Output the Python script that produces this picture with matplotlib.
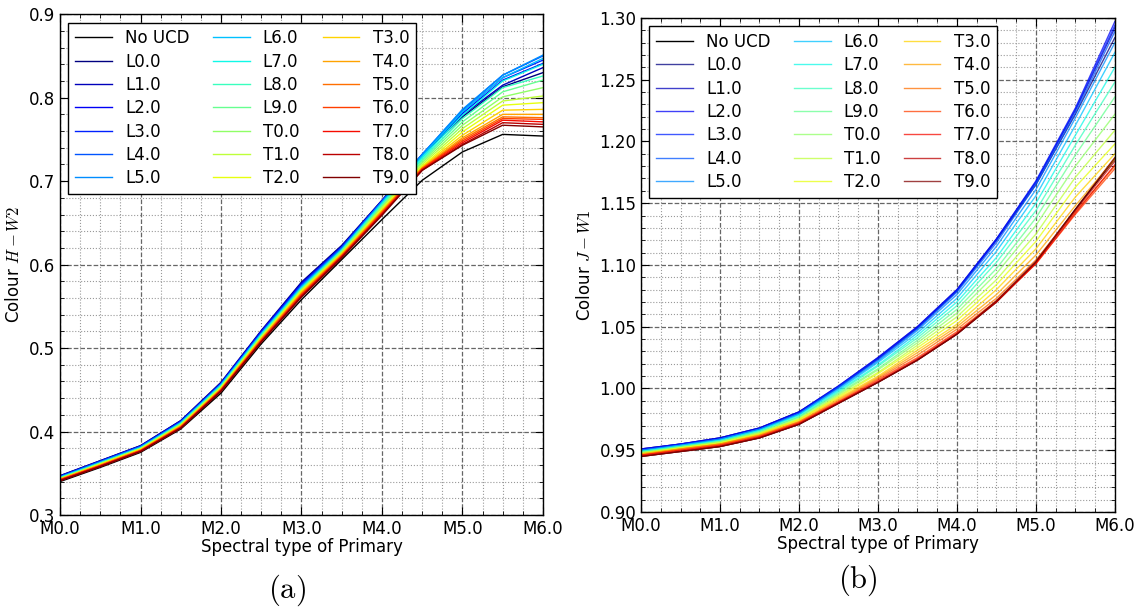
import numpy as np
import matplotlib
matplotlib.use("Agg")
import matplotlib.pyplot as plt
from matplotlib.ticker import MultipleLocator

plt.rcParams["mathtext.fontset"] = "cm"
plt.rcParams["font.family"] = "DejaVu Sans"

# spectral type of the primary, M0.0 .. M6.0 in half steps
primary = [0.0, 0.5, 1.0, 1.5, 2.0, 2.5, 3.0, 3.5, 4.0, 4.5, 5.0, 5.5, 6.0]
primary_ticks = [0, 1, 2, 3, 4, 5, 6]
primary_labels = ["M0.0", "M1.0", "M2.0", "M3.0", "M4.0", "M5.0", "M6.0"]

ucd_types = ["L0.0", "L1.0", "L2.0", "L3.0", "L4.0", "L5.0", "L6.0", "L7.0", "L8.0", "L9.0",
             "T0.0", "T1.0", "T2.0", "T3.0", "T4.0", "T5.0", "T6.0", "T7.0", "T8.0", "T9.0"]

# (a) H-W2, no companion
hw2_none = [0.340, 0.357, 0.375, 0.403, 0.446, 0.505, 0.558, 0.606, 0.654, 0.701, 0.735, 0.756, 0.754]
# (a) H-W2 with companion; one row per primary type, one value per UCD type (L0 .. T9)
hw2_by_primary = [
    [0.347, 0.347, 0.346, 0.346, 0.346, 0.345, 0.345, 0.345, 0.344, 0.344, 0.344, 0.343, 0.343, 0.343, 0.343, 0.342, 0.342, 0.342, 0.341, 0.341],
    [0.365, 0.365, 0.364, 0.364, 0.364, 0.363, 0.363, 0.362, 0.362, 0.362, 0.361, 0.361, 0.361, 0.360, 0.360, 0.359, 0.359, 0.359, 0.358, 0.358],
    [0.383, 0.383, 0.382, 0.382, 0.382, 0.381, 0.381, 0.380, 0.380, 0.380, 0.379, 0.379, 0.379, 0.378, 0.378, 0.377, 0.377, 0.377, 0.376, 0.376],
    [0.413, 0.413, 0.412, 0.412, 0.411, 0.411, 0.410, 0.410, 0.409, 0.409, 0.408, 0.408, 0.407, 0.407, 0.406, 0.406, 0.405, 0.405, 0.404, 0.404],
    [0.459, 0.458, 0.458, 0.457, 0.457, 0.456, 0.456, 0.455, 0.454, 0.454, 0.453, 0.453, 0.452, 0.451, 0.451, 0.450, 0.450, 0.449, 0.449, 0.448],
    [0.521, 0.520, 0.520, 0.519, 0.518, 0.517, 0.517, 0.516, 0.515, 0.514, 0.514, 0.513, 0.512, 0.511, 0.511, 0.510, 0.509, 0.508, 0.508, 0.507],
    [0.579, 0.578, 0.577, 0.576, 0.575, 0.574, 0.573, 0.572, 0.571, 0.570, 0.570, 0.569, 0.568, 0.567, 0.566, 0.565, 0.564, 0.563, 0.562, 0.561],
    [0.623, 0.622, 0.621, 0.621, 0.620, 0.619, 0.618, 0.617, 0.617, 0.616, 0.615, 0.614, 0.613, 0.613, 0.612, 0.611, 0.610, 0.610, 0.609, 0.608],
    [0.677, 0.677, 0.676, 0.676, 0.676, 0.675, 0.674, 0.673, 0.672, 0.670, 0.669, 0.668, 0.666, 0.665, 0.664, 0.663, 0.662, 0.661, 0.660, 0.659],
    [0.731, 0.731, 0.732, 0.732, 0.732, 0.732, 0.730, 0.728, 0.726, 0.724, 0.722, 0.720, 0.718, 0.717, 0.716, 0.715, 0.715, 0.714, 0.713, 0.713],
    [0.777, 0.779, 0.781, 0.783, 0.785, 0.786, 0.783, 0.779, 0.775, 0.771, 0.767, 0.763, 0.759, 0.755, 0.752, 0.750, 0.748, 0.746, 0.744, 0.743],
    [0.813, 0.815, 0.821, 0.824, 0.827, 0.827, 0.824, 0.820, 0.812, 0.807, 0.801, 0.796, 0.791, 0.785, 0.780, 0.777, 0.775, 0.773, 0.770, 0.767],
    [0.830, 0.836, 0.841, 0.845, 0.850, 0.851, 0.847, 0.840, 0.826, 0.821, 0.812, 0.802, 0.794, 0.786, 0.780, 0.776, 0.774, 0.771, 0.768, 0.765],
]

# (b) J-W1, no companion
jw1_none = [0.945, 0.949, 0.953, 0.960, 0.971, 0.988, 1.005, 1.023, 1.044, 1.070, 1.102, 1.145, 1.186]
# (b) J-W1 with companion; one row per primary type, one value per UCD type (L0 .. T9)
jw1_by_primary = [
    [0.951, 0.951, 0.951, 0.950, 0.950, 0.950, 0.949, 0.949, 0.949, 0.948, 0.948, 0.948, 0.947, 0.947, 0.947, 0.946, 0.946, 0.946, 0.945, 0.945],
    [0.955, 0.955, 0.955, 0.955, 0.954, 0.954, 0.954, 0.953, 0.953, 0.953, 0.952, 0.952, 0.952, 0.951, 0.951, 0.951, 0.950, 0.950, 0.949, 0.949],
    [0.960, 0.960, 0.960, 0.959, 0.959, 0.959, 0.958, 0.958, 0.957, 0.957, 0.957, 0.956, 0.956, 0.955, 0.955, 0.955, 0.954, 0.954, 0.953, 0.953],
    [0.968, 0.968, 0.968, 0.967, 0.967, 0.967, 0.966, 0.966, 0.965, 0.965, 0.964, 0.964, 0.963, 0.963, 0.962, 0.962, 0.961, 0.961, 0.960, 0.960],
    [0.981, 0.981, 0.981, 0.980, 0.980, 0.979, 0.979, 0.978, 0.977, 0.977, 0.976, 0.975, 0.975, 0.974, 0.973, 0.973, 0.972, 0.972, 0.971, 0.971],
    [1.001, 1.002, 1.002, 1.001, 1.001, 1.000, 0.999, 0.998, 0.997, 0.996, 0.995, 0.994, 0.993, 0.992, 0.991, 0.990, 0.989, 0.989, 0.988, 0.988],
    [1.024, 1.025, 1.025, 1.024, 1.023, 1.022, 1.021, 1.019, 1.018, 1.016, 1.015, 1.013, 1.012, 1.010, 1.009, 1.008, 1.007, 1.006, 1.005, 1.005],
    [1.049, 1.050, 1.050, 1.049, 1.048, 1.047, 1.045, 1.043, 1.041, 1.039, 1.037, 1.035, 1.033, 1.031, 1.029, 1.027, 1.025, 1.024, 1.023, 1.023],
    [1.079, 1.080, 1.080, 1.079, 1.078, 1.076, 1.073, 1.070, 1.067, 1.064, 1.061, 1.058, 1.055, 1.052, 1.050, 1.048, 1.046, 1.045, 1.044, 1.044],
    [1.120, 1.121, 1.121, 1.120, 1.118, 1.115, 1.111, 1.106, 1.102, 1.097, 1.093, 1.088, 1.084, 1.080, 1.076, 1.073, 1.071, 1.070, 1.070, 1.071],
    [1.165, 1.167, 1.168, 1.167, 1.165, 1.161, 1.156, 1.150, 1.144, 1.138, 1.132, 1.125, 1.119, 1.113, 1.108, 1.104, 1.101, 1.101, 1.102, 1.103],
    [1.222, 1.225, 1.227, 1.226, 1.223, 1.219, 1.213, 1.205, 1.197, 1.189, 1.180, 1.171, 1.163, 1.155, 1.148, 1.143, 1.141, 1.142, 1.144, 1.145],
    [1.284, 1.292, 1.297, 1.294, 1.289, 1.280, 1.272, 1.260, 1.248, 1.236, 1.222, 1.209, 1.198, 1.190, 1.186, 1.180, 1.178, 1.181, 1.184, 1.187],
]

hw2 = np.array(hw2_by_primary).T
jw1 = np.array(jw1_by_primary).T
colors = plt.cm.jet(np.linspace(0, 1, len(ucd_types)))


def draw_panel(ax, none_vals, ucd_vals, ylabel, ylim, major, minor, fmt, alpha):
    ax.plot(primary, none_vals, color="k", lw=1.0, label="No UCD")
    for name, vals, c in zip(ucd_types, ucd_vals, colors):
        ax.plot(primary, vals, color=c, lw=1.0, alpha=alpha, label=name)
    ax.set_xlim(0, 6)
    ax.set_ylim(*ylim)
    ax.set_xticks(primary_ticks)
    ax.set_xticklabels(primary_labels)
    ax.xaxis.set_minor_locator(MultipleLocator(0.25))
    ax.yaxis.set_major_locator(MultipleLocator(major))
    ax.yaxis.set_minor_locator(MultipleLocator(minor))
    ax.yaxis.set_major_formatter(fmt)
    ax.grid(True, which="major", ls="--", color="0.4", lw=0.9)
    ax.grid(True, which="minor", ls=":", color="0.6", lw=0.8)
    ax.set_axisbelow(True)
    ax.tick_params(which="both", direction="in", top=True, right=True, labelsize=12)
    ax.tick_params(which="major", length=6)
    ax.tick_params(which="minor", length=3)
    ax.set_xlabel("Spectral type of Primary", fontsize=12, labelpad=0)
    ax.set_ylabel(ylabel, fontsize=12, labelpad=4)
    for sp in ax.spines.values():
        sp.set_linewidth(1.0)
    leg = ax.legend(loc="upper left", ncol=3, fontsize=12, handlelength=2.2,
                    labelspacing=0.32, columnspacing=1.4, borderpad=0.4,
                    fancybox=False, framealpha=1.0, edgecolor="k")
    leg.get_frame().set_linewidth(1.0)


fig = plt.figure(figsize=(11.39, 6.07), dpi=100)
ax1 = fig.add_axes([0.0527, 0.1516, 0.424, 0.825])
ax2 = fig.add_axes([0.5628, 0.1565, 0.416, 0.814])

draw_panel(ax1, hw2_none, hw2, r"Colour $H-W2$", (0.3, 0.9), 0.1, 0.02, "{x:.1f}", 1.0)
draw_panel(ax2, jw1_none, jw1, r"Colour $J-W1$", (0.9, 1.3), 0.05, 0.01, "{x:.2f}", 0.75)

fig.text(0.252, 0.016, r"$\mathrm{(a)}$", fontsize=22, ha="center")
fig.text(0.753, 0.032, r"$\mathrm{(b)}$", fontsize=22, ha="center")

fig.savefig("out.png", dpi=100)
